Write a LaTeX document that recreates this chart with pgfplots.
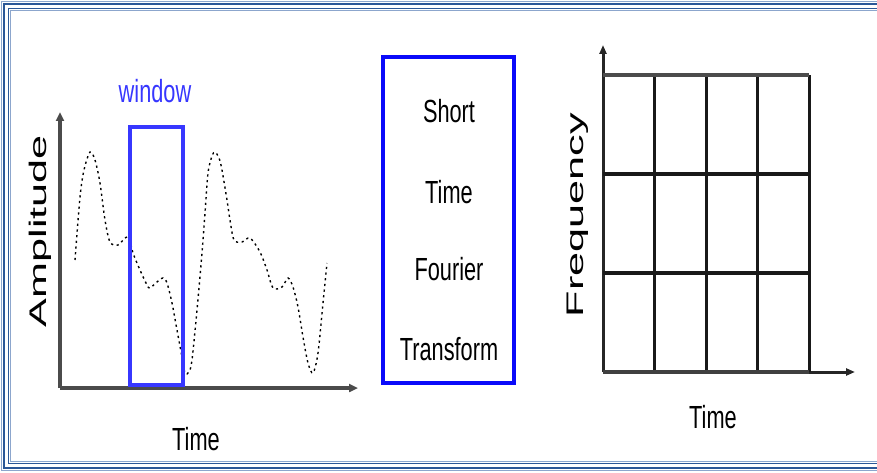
\documentclass[border=0pt]{standalone}
\usepackage{fontspec}
\setmainfont{Liberation Sans}
\usepackage{pgfplots}
\pgfplotsset{compat=1.18}
\usetikzlibrary{arrows.meta}
\definecolor{frameblue}{RGB}{43,87,151}
\definecolor{framelight}{RGB}{140,166,205}
\definecolor{winblue}{RGB}{55,55,255}
\definecolor{boxblue}{RGB}{10,10,250}
\definecolor{axgray}{RGB}{75,75,75}
% narrow sans labels, as in the picture
\newcommand{\lbl}[1]{\scalebox{0.68}[1]{\fontsize{32}{36}\selectfont #1}}
\newcommand{\vlbl}[1]{\rotatebox{90}{\scalebox{1.35}[0.75]{\fontsize{32}{36}\selectfont #1}}}

\begin{document}
\begin{tikzpicture}[x=1pt,y=1pt]
\path[use as bounding box] (0,0) rectangle (877,472);
% frame
\draw[framelight, line width=1pt] (877,470.5) -- (1.5,470.5) -- (1.5,1.5) -- (877,1.5);
\draw[frameblue, line width=2.5pt] (877,467.8) -- (4.2,467.8) -- (4.2,4.2) -- (877,4.2);
\draw[frameblue, line width=1.5pt] (877,463.5) -- (8.5,463.5) -- (8.5,8.5) -- (877,8.5);
\draw[framelight, line width=1pt] (877,461.5) -- (10.5,461.5) -- (10.5,10.5) -- (877,10.5);

% signal with window
\begin{axis}[at={(60pt,84pt)}, anchor=south west, scale only axis,
  width=298pt, height=276pt, xmin=0, xmax=298, ymin=0, ymax=276,
  axis lines=left, ticks=none, clip=false,
  axis line style={axgray, line width=4pt, -{Triangle[length=9pt,width=8pt]}}]
\addplot[black, line width=1.4pt, dash pattern=on 2.2pt off 3.5pt, smooth, tension=0.5] coordinates {
(15,128) (20,191) (24,218) (30,236) (35,228) (40,205) (45,168) (50,146)
(58,143) (65,150) (69,150) (73,135) (80,118) (87,103) (90,100) (97,106)
(103,110) (107,105) (112,85) (117,58) (122,31) (125,15) (129,16) (132,28)
(137,78) (142,135) (145,175) (148,215) (152,232) (155,236) (159,230) (162,218)
(167,188) (170,168) (174,148) (182,146) (190,150) (200,136) (207,118) (213,100)
(222,101) (228,110) (233,101) (238,81) (243,51) (248,25) (253,15) (258,35)
(263,85) (267,125)};
\draw[winblue, line width=3.5pt] (axis cs:70,3) rectangle (axis cs:123,261);
\node[winblue, anchor=base, inner sep=0pt] at (axis cs:95,285) {\lbl{window}};
\node[black, anchor=base, inner sep=0pt] at (axis cs:136,-62) {\lbl{Time}};
\node[black, inner sep=0pt] at (axis cs:-20,157) {\vlbl{Amplitude}};
\end{axis}

% STFT box
\draw[boxblue, line width=4.5pt] (383,89) rectangle (514,415);
\node[anchor=base, inner sep=0pt] at (449,349) {\lbl{Short}};
\node[anchor=base, inner sep=0pt] at (449,269) {\lbl{Time}};
\node[anchor=base, inner sep=0pt] at (449,192) {\lbl{Fourier}};
\node[anchor=base, inner sep=0pt] at (449,112) {\lbl{Transform}};

% time-frequency tiling
\begin{axis}[at={(603pt,100pt)}, anchor=south west, scale only axis,
  width=252pt, height=327pt, xmin=0, xmax=4.893, ymin=0, ymax=3.303,
  axis lines=left, ticks=none, clip=false,
  axis line style={black!85, line width=3pt, -{Triangle[length=9pt,width=7pt]}}]
\draw[black!90, line width=3pt] (axis cs:1,0) -- (axis cs:1,3);
\draw[black!90, line width=3pt] (axis cs:2,0) -- (axis cs:2,3);
\draw[black!90, line width=3pt] (axis cs:3,0) -- (axis cs:3,3);
\draw[black!90, line width=3pt] (axis cs:4,0) -- (axis cs:4,3);
\draw[black!90, line width=3.5pt] (axis cs:0,1) -- (axis cs:4,1);
\draw[black!90, line width=3.5pt] (axis cs:0,2) -- (axis cs:4,2);
\draw[black!70, line width=4.5pt] (axis cs:0,3) -- (axis cs:4,3);
\draw[black!75, line width=4.5pt] (axis cs:0,0) -- (axis cs:4,0);
\node[black, anchor=base, inner sep=0pt] at (axis cs:2.136,-0.566) {\lbl{Time}};
\node[black, inner sep=0pt] at (axis cs:-0.485,1.586) {\vlbl{Frequency}};
\end{axis}
\end{tikzpicture}
\end{document}
